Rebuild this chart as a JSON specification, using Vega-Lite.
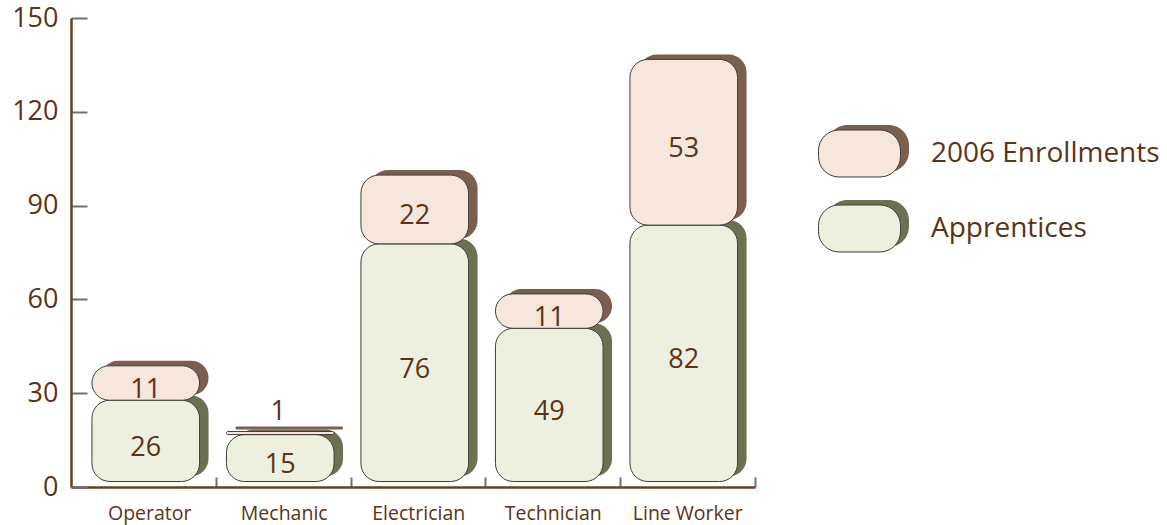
{
  "$schema": "https://vega.github.io/schema/vega-lite/v6.json",
  "width": 684,
  "height": 469,
  "autosize": {"type": "none"},
  "padding": {"left": 71, "top": 18, "right": 412, "bottom": 38},
  "background": "white",
  "config": {"view": {"stroke": null}, "font": "Open Sans"},
  "data": {
    "values": [
      {"job": "Operator", "series": "Apprentices", "value": 26},
      {"job": "Operator", "series": "2006 Enrollments", "value": 11},
      {"job": "Mechanic", "series": "Apprentices", "value": 15},
      {"job": "Mechanic", "series": "2006 Enrollments", "value": 1},
      {"job": "Electrician", "series": "Apprentices", "value": 76},
      {"job": "Electrician", "series": "2006 Enrollments", "value": 22},
      {"job": "Technician", "series": "Apprentices", "value": 49},
      {"job": "Technician", "series": "2006 Enrollments", "value": 11},
      {"job": "Line Worker", "series": "Apprentices", "value": 82},
      {"job": "Line Worker", "series": "2006 Enrollments", "value": 53}
    ]
  },
  "encoding": {
    "x": {
      "field": "job", "type": "nominal", "sort": null,
      "scale": {"paddingInner": 0, "paddingOuter": 0.04275, "align": 1},
      "axis": {
        "title": null, "labelAngle": 0, "bandPosition": 1,
        "tickSize": -10, "tickColor": "#6f6f78", "tickWidth": 2,
        "domainColor": "#6b3f1f", "domainWidth": 2.5,
        "labelFontSize": 19.5, "labelColor": "#5a3414", "labelPadding": 27, "labelFont": "Open Sans"
      }
    }
  },
  "layer": [
    {
      "transform": [
        {"stack": "value", "groupby": ["job"], "sort": [{"field": "series", "order": "descending"}], "as": ["v0", "v1"]}
      ],
      "mark": {"type": "bar", "width": {"band": 0.8}, "cornerRadius": 18, "xOffset": 5, "yOffset": -10.5, "y2Offset": -10.5},
      "encoding": {
        "y": {
          "field": "v0", "type": "quantitative",
          "scale": {"domain": [0, 150], "nice": false},
          "axis": {
            "values": [0, 30, 60, 90, 120, 150], "title": null, "grid": false,
            "domainColor": "#6b3f1f", "domainWidth": 2.5,
            "tickColor": "#6f6f78", "tickWidth": 2, "tickSize": -16,
            "labelFontSize": 27, "labelColor": "#5a3414", "labelPadding": 29, "labelFont": "Open Sans"
          }
        },
        "y2": {"field": "v1"},
        "fill": {
          "field": "series", "type": "nominal",
          "scale": {"domain": ["2006 Enrollments", "Apprentices"], "range": ["#7b5e4f", "#6d7151"]},
          "legend": {
            "orient": "none", "legendX": 756, "legendY": 93, "title": null, "zindex": 0,
            "symbolType": "M -0.5 -0.573 L 0.5 -0.573 A 0.5 0.5 0 0 1 1 -0.073 L 1 0.073 A 0.5 0.5 0 0 1 0.5 0.573 L -0.5 0.573 A 0.5 0.5 0 0 1 -1 0.073 L -1 -0.073 A 0.5 0.5 0 0 1 -0.5 -0.573 Z",
            "symbolSize": 6724, "symbolStrokeWidth": 0, "symbolOpacity": 1,
            "labelFontSize": 28, "labelExpr": "''", "labelLimit": 400, "labelOffset": 30,
            "clipHeight": 75, "rowPadding": 0, "padding": 0
          }
        }
      }
    },
    {
      "transform": [
        {"stack": "value", "groupby": ["job"], "sort": [{"field": "series", "order": "descending"}], "as": ["v0", "v1"]}
      ],
      "mark": {"type": "bar", "width": {"band": 0.8}, "cornerRadius": 18, "xOffset": -4, "yOffset": -5.5, "y2Offset": -5.5, "stroke": "#3c3c3c", "strokeWidth": 1},
      "encoding": {
        "y": {"field": "v0", "type": "quantitative"},
        "y2": {"field": "v1"},
        "fill": {
          "field": "series", "type": "nominal",
          "scale": {"domain": ["2006 Enrollments", "Apprentices"], "range": ["#f6e6dc", "#eef0df"]},
          "legend": {
            "orient": "none", "legendX": 747, "legendY": 98, "title": null, "zindex": 1,
            "symbolType": "M -0.5 -0.573 L 0.5 -0.573 A 0.5 0.5 0 0 1 1 -0.073 L 1 0.073 A 0.5 0.5 0 0 1 0.5 0.573 L -0.5 0.573 A 0.5 0.5 0 0 1 -1 0.073 L -1 -0.073 A 0.5 0.5 0 0 1 -0.5 -0.573 Z",
            "symbolSize": 6724, "symbolStrokeColor": "#3c3c3c", "symbolStrokeWidth": 1, "symbolOpacity": 1,
            "labelFontSize": 28, "labelColor": "#5a3414", "labelFont": "Open Sans", "labelLimit": 400, "labelOffset": 30,
            "clipHeight": 75, "rowPadding": 0, "padding": 0
          }
        }
      }
    },
    {
      "transform": [{"filter": "datum.value >= 3"}],
      "mark": {"type": "text", "fontSize": 27, "color": "#5a3414", "xOffset": -4, "yOffset": 1.5},
      "encoding": {
        "y": {"field": "value", "type": "quantitative", "stack": "zero", "bandPosition": 0.5},
        "order": {"field": "series", "sort": "descending"},
        "text": {"field": "value"},
        "detail": {"field": "series"}
      }
    },
    {
      "transform": [
        {"stack": "value", "groupby": ["job"], "sort": [{"field": "series", "order": "descending"}], "as": ["v0", "v1"]},
        {"filter": "datum.value < 3"}
      ],
      "mark": {"type": "text", "fontSize": 27, "color": "#5a3414", "xOffset": -6, "yOffset": -25},
      "encoding": {
        "y": {"field": "v1", "type": "quantitative"},
        "text": {"field": "value"}
      }
    }
  ],
  "resolve": {"scale": {"fill": "independent"}}
}
